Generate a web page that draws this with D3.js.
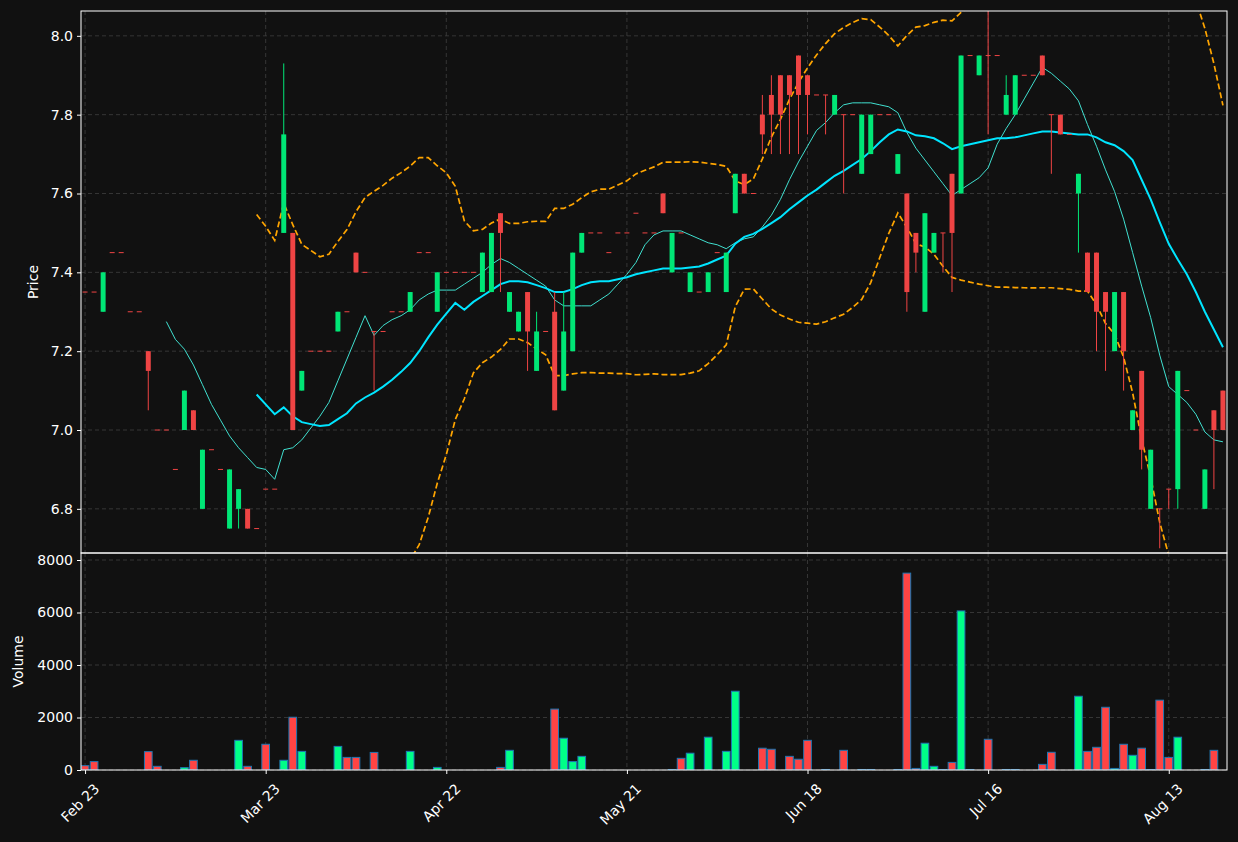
<!DOCTYPE html>
<html><head><meta charset="utf-8">
<script src="https://cdn.jsdelivr.net/npm/d3@7"></script>
<style>body{margin:0;background:#111111;}svg{display:block;font-family:"DejaVu Sans",sans-serif;}</style>
</head><body>
<svg id="c" width="1238" height="842"></svg>
<script>
const opens  = [7.35,7.35,7.3,7.45,7.45,7.3,7.3,7.2,7.0,7.0,6.9,7.0,7.05,6.8,6.95,6.9,6.75,6.8,6.8,6.75,6.85,6.85,7.5,7.5,7.1,7.2,7.2,7.2,7.25,7.3,7.45,7.4,7.25,7.25,7.3,7.3,7.3,7.45,7.45,7.3,7.4,7.4,7.4,7.4,7.35,7.35,7.55,7.3,7.25,7.35,7.15,7.25,7.3,7.1,7.2,7.45,7.5,7.5,7.45,7.5,7.5,7.55,7.5,7.5,7.6,7.4,7.5,7.35,7.35,7.35,7.45,7.35,7.55,7.65,7.6,7.8,7.85,7.9,7.9,7.95,7.9,7.85,7.85,7.8,7.8,7.8,7.65,7.7,7.8,7.8,7.65,7.6,7.5,7.3,7.45,7.5,7.65,7.6,7.95,7.9,7.95,7.95,7.8,7.8,7.9,7.9,7.95,7.8,7.8,7.75,7.6,7.45,7.45,7.35,7.2,7.35,7.0,7.15,6.8,6.8,6.85,6.85,7.1,7.0,6.8,7.05,7.1];
const highs  = [7.35,7.35,7.4,7.45,7.45,7.3,7.3,7.2,7.0,7.0,6.9,7.1,7.05,6.95,6.95,6.9,6.9,6.85,6.8,6.75,6.85,6.85,7.93,7.5,7.15,7.2,7.2,7.2,7.3,7.3,7.45,7.4,7.25,7.25,7.3,7.3,7.35,7.45,7.45,7.4,7.4,7.4,7.4,7.4,7.45,7.5,7.55,7.35,7.3,7.35,7.3,7.25,7.35,7.35,7.45,7.5,7.5,7.5,7.45,7.5,7.5,7.55,7.5,7.5,7.6,7.5,7.5,7.4,7.35,7.4,7.45,7.45,7.65,7.65,7.6,7.85,7.9,7.9,7.9,7.95,7.9,7.85,7.85,7.85,7.8,7.8,7.8,7.8,7.8,7.8,7.7,7.6,7.5,7.55,7.5,7.5,7.65,7.95,7.95,7.95,8.1,7.95,7.9,7.9,7.9,7.9,7.95,7.8,7.8,7.75,7.65,7.45,7.45,7.35,7.35,7.35,7.05,7.15,6.95,6.8,6.85,7.15,7.1,7.0,6.9,7.05,7.1];
const lows   = [7.35,7.35,7.3,7.45,7.45,7.3,7.3,7.05,7.0,7.0,6.9,7.0,7.0,6.8,6.95,6.9,6.75,6.75,6.75,6.75,6.85,6.85,7.5,7.0,7.1,7.2,7.2,7.2,7.25,7.3,7.4,7.4,7.1,7.25,7.3,7.3,7.3,7.45,7.45,7.3,7.4,7.4,7.4,7.4,7.35,7.35,7.35,7.3,7.25,7.15,7.15,7.25,7.05,7.1,7.2,7.45,7.5,7.5,7.45,7.5,7.5,7.55,7.5,7.5,7.55,7.4,7.5,7.35,7.35,7.35,7.45,7.35,7.55,7.6,7.6,7.7,7.7,7.7,7.7,7.7,7.75,7.85,7.75,7.8,7.6,7.8,7.65,7.7,7.8,7.8,7.65,7.3,7.4,7.3,7.45,7.4,7.35,7.6,7.95,7.9,7.75,7.95,7.8,7.8,7.9,7.9,7.9,7.65,7.75,7.75,7.45,7.35,7.2,7.15,7.2,7.1,7.0,6.9,6.8,6.7,6.8,6.8,7.1,7.0,6.8,6.85,7.0];
const closes = [7.35,7.35,7.4,7.45,7.45,7.3,7.3,7.15,7.0,7.0,6.9,7.1,7.0,6.95,6.95,6.9,6.9,6.85,6.75,6.75,6.85,6.85,7.75,7.0,7.15,7.2,7.2,7.2,7.3,7.3,7.4,7.4,7.25,7.25,7.3,7.3,7.35,7.45,7.45,7.4,7.4,7.4,7.4,7.4,7.45,7.5,7.5,7.35,7.3,7.25,7.25,7.25,7.05,7.25,7.45,7.5,7.5,7.5,7.45,7.5,7.5,7.55,7.5,7.5,7.55,7.5,7.5,7.4,7.35,7.4,7.45,7.45,7.65,7.6,7.6,7.75,7.8,7.8,7.85,7.85,7.85,7.85,7.85,7.85,7.8,7.8,7.8,7.8,7.8,7.8,7.7,7.35,7.45,7.55,7.5,7.5,7.5,7.95,7.95,7.95,7.95,7.95,7.85,7.9,7.9,7.9,7.9,7.8,7.75,7.75,7.65,7.35,7.3,7.3,7.35,7.2,7.05,6.95,6.95,6.8,6.85,7.15,7.1,7.0,6.9,7.0,7.0];
const volumes= [165,320,0,0,0,0,0,700,140,0,0,90,370,0,0,0,0,1130,140,0,980,0,370,2010,710,0,0,0,900,480,480,0,670,0,0,0,710,0,0,100,0,0,0,0,0,0,100,750,0,0,0,0,2320,1210,320,520,0,0,0,0,0,0,0,0,0,20,445,640,0,1250,0,710,3000,0,0,830,790,0,520,410,1130,0,20,0,750,0,20,20,0,0,20,7500,60,1020,140,20,290,6060,20,0,1170,0,20,20,0,0,215,675,0,0,2810,710,865,2390,60,980,560,830,20,2660,480,1250,0,0,20,750,0];
const tickIdx = [0,20,40,60,80,100,120];
const tickLabels = ["Feb 23","Mar 23","Apr 22","May 21","Jun 18","Jul 16","Aug 13"];
const priceTicks = [6.8,7.0,7.2,7.4,7.6,7.8,8.0];
const volTicks = [0,2000,4000,6000,8000];

const svg = d3.select("#c");
const L=81,R=1227,T=11,MID=553,B=770;
const n = closes.length;
const x = d3.scaleLinear().domain([-0.45, n-1+0.45]).range([L,R]);
const y = d3.scaleLinear().domain([6.688,8.063]).range([MID,T]);
const yv = d3.scaleLinear().domain([0,8267]).range([B,MID]);
const step = x(1)-x(0);
const UP="#00e676", DN="#ef4444", VUP="#00ff88", VDN="#ff4444";

svg.append("rect").attr("width",1238).attr("height",842).attr("fill","#111111");
const defs = svg.append("defs");
defs.append("clipPath").attr("id","cp").append("rect").attr("x",L).attr("y",T).attr("width",R-L).attr("height",MID-T);
defs.append("clipPath").attr("id","cv").append("rect").attr("x",L).attr("y",MID).attr("width",R-L).attr("height",B-MID);

const grid = svg.append("g").attr("stroke","#3a3a3a").attr("stroke-dasharray","4,3").attr("stroke-width",0.9);
priceTicks.forEach(t=>grid.append("line").attr("x1",L).attr("x2",R).attr("y1",y(t)).attr("y2",y(t)));
volTicks.forEach(t=>grid.append("line").attr("x1",L).attr("x2",R).attr("y1",yv(t)).attr("y2",yv(t)));
tickIdx.forEach(i=>{grid.append("line").attr("x1",x(i)).attr("x2",x(i)).attr("y1",T).attr("y2",MID);
  grid.append("line").attr("x1",x(i)).attr("x2",x(i)).attr("y1",MID).attr("y2",B);});

function sma(p){return closes.map((_,i)=> i<p-1?null: d3.mean(closes.slice(i-p+1,i+1)));}
function sd(p){return closes.map((_,i)=> i<p-1?null: d3.deviation(closes.slice(i-p+1,i+1)));}
const ma10=sma(10), ma20=sma(20), s20=sd(20);
const up = ma20.map((m,i)=> m==null?null: m+2*s20[i]*Math.sqrt((20-1)/20));
const lo = ma20.map((m,i)=> m==null?null: m-2*s20[i]*Math.sqrt((20-1)/20));
const gp = svg.append("g").attr("clip-path","url(#cp)");
const line = d3.line().defined(d=>d!=null).x((d,i)=>x(i)).y(d=>y(d));
gp.append("path").datum(up).attr("d",line).attr("fill","none").attr("stroke","#ffa500").attr("stroke-width",1.7).attr("stroke-dasharray","6,3");
gp.append("path").datum(lo).attr("d",line).attr("fill","none").attr("stroke","#ffa500").attr("stroke-width",1.7).attr("stroke-dasharray","6,3");
gp.append("path").datum(ma10).attr("d",line).attr("fill","none").attr("stroke","#40e0d0").attr("stroke-width",1);
gp.append("path").datum(ma20).attr("d",line).attr("fill","none").attr("stroke","#00e5ff").attr("stroke-width",2);

const bw = step*0.55;
closes.forEach((c,i)=>{
  const o=opens[i], col = c>o?UP:DN;
  gp.append("line").attr("x1",x(i)).attr("x2",x(i)).attr("y1",y(highs[i])).attr("y2",y(lows[i])).attr("stroke",col).attr("stroke-width",1);
  const top=y(Math.max(o,c)), h=Math.abs(y(o)-y(c));
  gp.append("rect").attr("x",x(i)-bw/2).attr("width",bw).attr("y",h<1?top-0.5:top).attr("height",Math.max(h,1)).attr("fill",col);
});

const gv = svg.append("g").attr("clip-path","url(#cv)");
const vw = step*0.85;
volumes.forEach((v,i)=>{
  if(v<=0) return;
  const col = closes[i]>opens[i]?VUP:VDN;
  gv.append("rect").attr("x",x(i)-vw/2).attr("width",vw).attr("y",yv(v)).attr("height",yv(0)-yv(v))
    .attr("fill",col).attr("stroke","#1f77b4").attr("stroke-width",1);
});

svg.append("rect").attr("x",L).attr("y",T).attr("width",R-L).attr("height",MID-T).attr("fill","none").attr("stroke","#ffffff").attr("stroke-width",1);
svg.append("rect").attr("x",L).attr("y",MID).attr("width",R-L).attr("height",B-MID).attr("fill","none").attr("stroke","#ffffff").attr("stroke-width",1);

const ax1 = svg.append("g").attr("transform",`translate(${L},0)`).call(d3.axisLeft(y).tickValues(priceTicks).tickFormat(d3.format(".1f")).tickSize(4).tickPadding(4));
const ax2 = svg.append("g").attr("transform",`translate(${L},0)`).call(d3.axisLeft(yv).tickValues(volTicks).tickFormat(d3.format("d")).tickSize(4).tickPadding(4));
const ax3 = svg.append("g").attr("transform",`translate(0,${B})`).call(d3.axisBottom(x).tickValues(tickIdx).tickFormat((d,i)=>tickLabels[i]).tickSize(4).tickPadding(4));
[ax1,ax2,ax3].forEach(a=>{a.select(".domain").remove();a.selectAll("line").attr("stroke","#ffffff");a.selectAll("text").attr("fill","#ffffff").attr("font-size",14).attr("font-family","DejaVu Sans");});
ax3.selectAll("text").attr("text-anchor","end").attr("dy","0").attr("transform","translate(9,14) rotate(-45)");
svg.append("text").attr("transform",`translate(38,${(T+MID)/2}) rotate(-90)`).attr("text-anchor","middle").attr("fill","#fff").attr("font-size",14).text("Price");
svg.append("text").attr("transform",`translate(23,${(MID+B)/2}) rotate(-90)`).attr("text-anchor","middle").attr("fill","#fff").attr("font-size",14).text("Volume");
</script>
</body></html>
